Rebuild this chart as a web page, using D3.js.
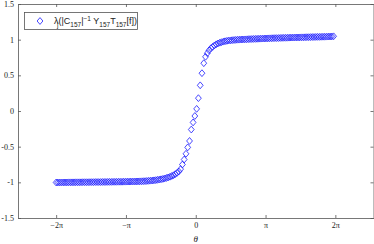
<!DOCTYPE html>
<html><head><meta charset="utf-8">
<script src="https://cdn.jsdelivr.net/npm/d3@7"></script>
<style>html,body{margin:0;padding:0;background:#fff;}svg{display:block;}</style>
</head><body>
<script>
// theta in units of pi
const thetaOverPi = [-2.000,-1.975,-1.949,-1.924,-1.898,-1.873,-1.847,-1.822,-1.796,-1.771,-1.745,-1.720,-1.694,-1.669,-1.643,-1.618,-1.592,-1.567,-1.541,-1.516,-1.490,-1.465,-1.439,-1.414,-1.389,-1.363,-1.338,-1.312,-1.287,-1.261,-1.236,-1.210,-1.185,-1.159,-1.134,-1.108,-1.083,-1.057,-1.032,-1.006,-0.981,-0.955,-0.930,-0.904,-0.879,-0.854,-0.828,-0.803,-0.777,-0.752,-0.726,-0.701,-0.675,-0.650,-0.624,-0.599,-0.573,-0.548,-0.522,-0.497,-0.471,-0.446,-0.420,-0.395,-0.369,-0.344,-0.318,-0.293,-0.268,-0.242,-0.217,-0.191,-0.166,-0.140,-0.115,-0.089,-0.064,-0.038,-0.013,0.013,0.038,0.064,0.089,0.115,0.140,0.166,0.191,0.217,0.242,0.268,0.293,0.318,0.344,0.369,0.395,0.420,0.446,0.471,0.497,0.522,0.548,0.573,0.599,0.624,0.650,0.675,0.701,0.726,0.752,0.777,0.803,0.828,0.854,0.879,0.904,0.930,0.955,0.981,1.006,1.032,1.057,1.083,1.108,1.134,1.159,1.185,1.210,1.236,1.261,1.287,1.312,1.338,1.363,1.389,1.414,1.439,1.465,1.490,1.516,1.541,1.567,1.592,1.618,1.643,1.669,1.694,1.720,1.745,1.771,1.796,1.822,1.847,1.873,1.898,1.924,1.949,1.975];
const lambdaValues = [-1.002,-1.002,-1.002,-1.001,-1.001,-1.001,-1.001,-1.000,-1.000,-1.000,-1.000,-0.999,-0.999,-0.999,-0.999,-0.998,-0.998,-0.998,-0.998,-0.997,-0.997,-0.997,-0.996,-0.996,-0.996,-0.996,-0.995,-0.995,-0.995,-0.994,-0.994,-0.994,-0.993,-0.993,-0.993,-0.992,-0.992,-0.992,-0.991,-0.991,-0.990,-0.990,-0.989,-0.989,-0.988,-0.988,-0.987,-0.986,-0.985,-0.984,-0.983,-0.981,-0.979,-0.977,-0.975,-0.972,-0.969,-0.965,-0.961,-0.957,-0.952,-0.946,-0.939,-0.931,-0.922,-0.911,-0.900,-0.885,-0.868,-0.848,-0.815,-0.75,-0.68,-0.60,-0.51,-0.42,-0.26,-0.16,-0.07,0.03,0.18,0.36,0.53,0.67,0.76,0.81,0.85,0.88,0.90,0.92,0.935,0.947,0.957,0.965,0.972,0.978,0.983,0.987,0.990,0.993,0.995,0.997,0.999,1.000,1.002,1.003,1.004,1.005,1.007,1.008,1.009,1.010,1.011,1.012,1.013,1.014,1.015,1.016,1.017,1.018,1.019,1.020,1.021,1.022,1.022,1.023,1.024,1.025,1.026,1.026,1.027,1.028,1.029,1.029,1.030,1.031,1.031,1.032,1.033,1.033,1.034,1.035,1.035,1.036,1.037,1.037,1.038,1.039,1.039,1.040,1.041,1.041,1.042,1.043,1.044,1.045,1.047];
const xTickValues = [-2, -1, 0, 1, 2];           // multiples of pi
const xTickLabels = ["\u22122\u03c0", "\u2212\u03c0", "0", "\u03c0", "2\u03c0"];
const yTickValues = [-1.5, -1, -0.5, 0, 0.5, 1, 1.5];
const yTickLabels = ["-1.5", "-1", "-0.5", "0", "0.5", "1", "1.5"];

const W = 374, H = 244;
const L = 18, R = 373.5, T = 4, B = 218;
const axisColor = "#555";
const blue = "#1a1aff";

const svg = d3.select("body").append("svg").attr("width", W).attr("height", H);

const x = d3.scaleLinear().domain([-8, 8]).range([L, R]);
const y = d3.scaleLinear().domain([-1.5, 1.5]).range([B, T]);

const tickFont = "'Liberation Serif', 'DejaVu Serif', serif";

function styleAxis(g) {
  g.selectAll("path.domain").attr("stroke", axisColor).attr("stroke-width", 0.8);
  g.selectAll(".tick line").attr("stroke", axisColor).attr("stroke-width", 0.8);
  g.selectAll(".tick text").attr("fill", "#222").style("font-family", tickFont).style("font-size", "8px");
}

const xPi = xTickValues.map(v => v * Math.PI);
svg.append("g").attr("transform", `translate(0,${B})`)
  .call(d3.axisBottom(x).tickValues(xPi).tickSizeInner(-3).tickSizeOuter(0).tickPadding(4)
    .tickFormat((d, i) => xTickLabels[i]))
  .call(styleAxis);
svg.append("g").attr("transform", `translate(0,${T})`)
  .call(d3.axisTop(x).tickValues(xPi).tickSizeInner(-3).tickSizeOuter(0).tickFormat(""))
  .call(styleAxis);
svg.append("g").attr("transform", `translate(${L},0)`)
  .call(d3.axisLeft(y).tickValues(yTickValues).tickSizeInner(-3).tickSizeOuter(0).tickPadding(4)
    .tickFormat((d, i) => yTickLabels[i]))
  .call(styleAxis);
svg.append("g").attr("transform", `translate(${R},0)`)
  .call(d3.axisRight(y).tickValues(yTickValues).tickSizeInner(-3).tickSizeOuter(0).tickFormat(""))
  .call(styleAxis);

// x label
svg.append("text").attr("x", (L + R) / 2).attr("y", 242)
  .attr("text-anchor", "middle").style("font-family", tickFont).style("font-style", "italic")
  .style("font-size", "9px").attr("fill", "#222").text("\u03b8");

// diamonds
const dw = 2.9, dh = 3.4;
const diamond = `M0,${-dh}L${dw},0L0,${dh}L${-dw},0Z`;
const data = thetaOverPi.map((t, i) => ({ t: t * Math.PI, v: lambdaValues[i] }));
svg.append("g").selectAll("path").data(data).join("path")
  .attr("d", diamond)
  .attr("transform", d => `translate(${x(d.t)},${y(d.v)})`)
  .attr("fill", "none").attr("stroke", blue).attr("stroke-width", 0.8);

// legend
const lg = svg.append("g");
lg.append("rect").attr("x", 24.5).attr("y", 12.5).attr("width", 113).attr("height", 17)
  .attr("fill", "#fff").attr("stroke", axisColor).attr("stroke-width", 0.8);
lg.append("path").attr("d", diamond).attr("transform", "translate(40,21)")
  .attr("fill", "none").attr("stroke", blue).attr("stroke-width", 0.8);
const lt = lg.append("text").attr("x", 54).attr("y", 24)
  .style("font-family", "'Liberation Sans', Arial, sans-serif").style("font-size", "9px").attr("fill", "#222");
const parts = [
  ["\u03bb", 0], ["j", 1], ["(|C", 0], ["157", 1], ["|", 0], ["\u22121", -1], [" Y", 0], ["157", 1],
  ["T", 0], ["157", 1], ["[f])", 0]
];
let prev = 0;
parts.forEach(([s, k]) => {
  const shift = (k === 1 ? 2.5 : k === -1 ? -3.5 : 0);
  const ts = lt.append("tspan").text(s).attr("dy", shift - prev);
  if (k !== 0) ts.style("font-size", "6.5px");
  if (s === "j") ts.attr("dx", -1.5);
  prev = shift;
});
</script>
</body></html>
